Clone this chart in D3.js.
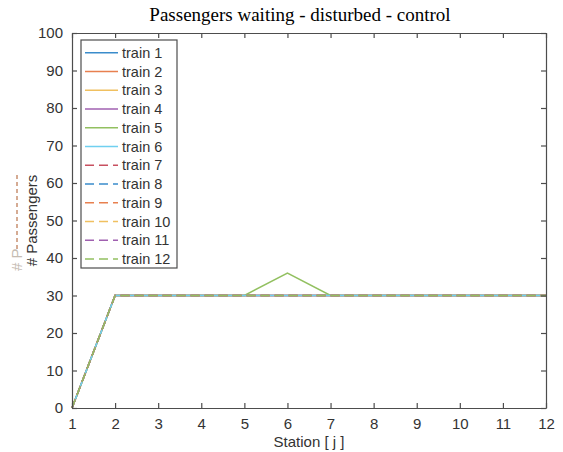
<!DOCTYPE html>
<html>
<head>
<meta charset="utf-8">
<script src="https://cdn.jsdelivr.net/npm/d3@7"></script>
<style>
  body { margin: 0; background: #fff; }
  svg { display: block; }
</style>
</head>
<body>
<div id="chart"></div>
<script>
"use strict";

// stations on the x axis
const stations = [1, 2, 3, 4, 5, 6, 7, 8, 9, 10, 11, 12];

// passengers waiting per train (all trains identical except train 5 at station 6)
const baseWaiting = [0, 30, 30, 30, 30, 30, 30, 30, 30, 30, 30, 30];
const train5Waiting = [0, 30, 30, 30, 30, 36, 30, 30, 30, 30, 30, 30];

const trainNames = ["train 1", "train 2", "train 3", "train 4", "train 5", "train 6",
                    "train 7", "train 8", "train 9", "train 10", "train 11", "train 12"];
const trainColors = ["#3a8ccb", "#e8804f", "#f0c060", "#a060b0", "#92c060", "#70d0f0",
                     "#c85060", "#3a8ccb", "#e8804f", "#f0c060", "#a060b0", "#92c060"];
const trainDashed = [false, false, false, false, false, false, true, true, true, true, true, true];

const yTicks = [0, 10, 20, 30, 40, 50, 60, 70, 80, 90, 100];

const width = 563, height = 452;
const margin = {top: 33, right: 17, bottom: 44, left: 72};

const svg = d3.select("#chart").append("svg")
    .attr("width", width)
    .attr("height", height);

const x = d3.scaleLinear().domain([1, 12]).range([margin.left, width - margin.right]);
const y = d3.scaleLinear().domain([0, 100]).range([height - margin.bottom, margin.top]);

const axisColor = "#4d4d4d";
const textColor = "#333";

// series
const series = trainNames.map(function(name, i) {
    const vals = (i === 4) ? train5Waiting : baseWaiting;
    return stations.map(function(s, k) { return {s: s, v: vals[k]}; });
});

const line = d3.line()
    .x(function(d) { return x(d.s); })
    .y(function(d) { return y(d.v); });

svg.append("g").selectAll("path")
    .data(series)
    .enter()
    .append("path")
    .attr("d", line)
    .attr("fill", "none")
    .attr("stroke", function(d, i) { return trainColors[i]; })
    .attr("stroke-width", 1.5)
    .attr("stroke-dasharray", function(d, i) { return trainDashed[i] ? "9,5" : null; });

// axes (ticks inside, mirrored on top/right)
const fontFam = "'Liberation Sans', Arial, sans-serif";

const xAxis = svg.append("g")
    .attr("transform", "translate(0," + y(0) + ")")
    .call(d3.axisBottom(x).tickValues(stations).tickSizeInner(-5).tickSizeOuter(0).tickPadding(10));
const xAxisTop = svg.append("g")
    .attr("transform", "translate(0," + y(100) + ")")
    .call(d3.axisTop(x).tickValues(stations).tickSizeInner(-5).tickSizeOuter(0).tickFormat(""));
const yAxis = svg.append("g")
    .attr("transform", "translate(" + x(1) + ",0)")
    .call(d3.axisLeft(y).tickValues(yTicks).tickSizeInner(-5).tickSizeOuter(0).tickPadding(9));
const yAxisRight = svg.append("g")
    .attr("transform", "translate(" + x(12) + ",0)")
    .call(d3.axisRight(y).tickValues(yTicks).tickSizeInner(-5).tickSizeOuter(0).tickFormat(""));

[xAxis, xAxisTop, yAxis, yAxisRight].forEach(function(g) {
    g.select(".domain").attr("stroke", axisColor).attr("stroke-width", 1.2);
    g.selectAll(".tick line").attr("stroke", axisColor).attr("stroke-width", 1.2);
    g.selectAll("text").attr("fill", textColor).style("font-family", fontFam).style("font-size", "15px");
});

// title
svg.append("text")
    .attr("x", 300)
    .attr("y", 21)
    .attr("text-anchor", "middle")
    .style("font-family", "'Liberation Serif', 'DejaVu Serif', serif")
    .style("font-size", "19px")
    .attr("fill", "#000")
    .text("Passengers waiting - disturbed - control");

// x label
svg.append("text")
    .attr("x", (x(1) + x(12)) / 2)
    .attr("y", 447)
    .attr("text-anchor", "middle")
    .style("font-family", fontFam)
    .style("font-size", "15px")
    .attr("fill", textColor)
    .text("Station [ j ]");

// y label
svg.append("text")
    .attr("transform", "translate(37," + ((y(0) + y(100)) / 2) + ") rotate(-90)")
    .attr("text-anchor", "middle")
    .style("font-family", fontFam)
    .style("font-size", "15px")
    .attr("fill", textColor)
    .text("# Passengers");

// ghost of an older y label, partly overdrawn by a dashed line
svg.append("text")
    .attr("transform", "translate(22,271) rotate(-90)")
    .attr("text-anchor", "start")
    .style("font-family", fontFam)
    .style("font-size", "15px")
    .attr("fill", "#a09080")
    .attr("opacity", 0.6)
    .text("# P");
svg.append("line")
    .attr("x1", 17).attr("x2", 17)
    .attr("y1", 175).attr("y2", 249)
    .attr("stroke", "#c89070")
    .attr("stroke-width", 1.5)
    .attr("stroke-dasharray", "4,3");

// legend
const legend = svg.append("g").attr("transform", "translate(81,40)");
legend.append("rect")
    .attr("width", 96).attr("height", 228)
    .attr("fill", "#fff")
    .attr("stroke", axisColor)
    .attr("stroke-width", 1.2);

const rows = legend.selectAll("g.row")
    .data(trainNames)
    .enter()
    .append("g")
    .attr("class", "row")
    .attr("transform", function(d, i) { return "translate(0," + (12.7 + i * 18.75) + ")"; });

rows.append("line")
    .attr("x1", 4).attr("x2", 37)
    .attr("stroke", function(d, i) { return trainColors[i]; })
    .attr("stroke-width", 1.5)
    .attr("stroke-dasharray", function(d, i) { return trainDashed[i] ? "9,5" : null; });

rows.append("text")
    .attr("x", 41)
    .attr("dy", "0.35em")
    .style("font-family", fontFam)
    .style("font-size", "14.5px")
    .attr("fill", textColor)
    .text(function(d) { return d; });
</script>
</body>
</html>
